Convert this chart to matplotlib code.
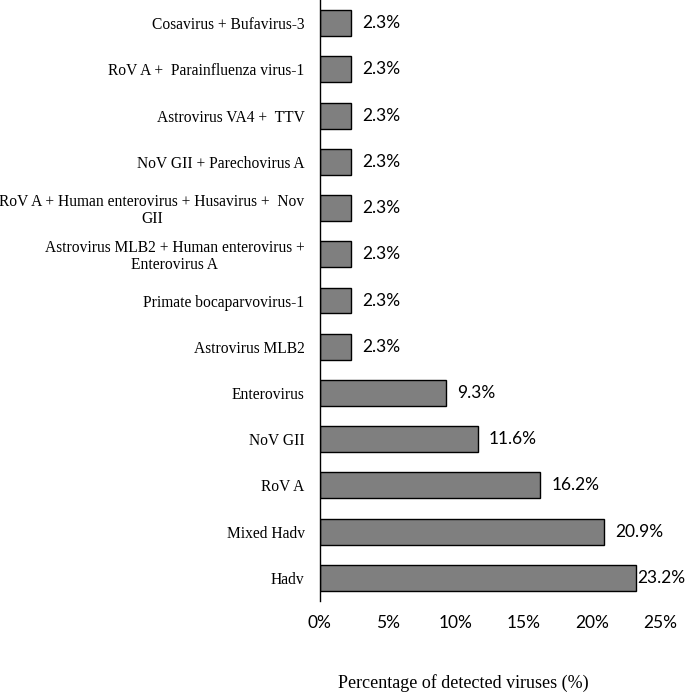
import matplotlib

matplotlib.use("Agg")
import matplotlib.pyplot as plt

# bottom-to-top order, as drawn
viruses = [
    "Hadv",
    "Mixed Hadv",
    "RoV A",
    "NoV GII",
    "Enterovirus",
    "Astrovirus MLB2",
    "Primate bocaparvovirus-1",
    "Astrovirus MLB2 + Human enterovirus +\nEnterovirus A",
    "RoV A + Human enterovirus + Husavirus +  Nov\nGII",
    "NoV GII + Parechovirus A",
    "Astrovirus VA4 +  TTV",
    "RoV A +  Parainfluenza virus-1",
    "Cosavirus + Bufavirus-3",
]
percent = [23.2, 20.9, 16.2, 11.6, 9.3, 2.3, 2.3, 2.3, 2.3, 2.3, 2.3, 2.3, 2.3]
xticks = [0, 5, 10, 15, 20, 25]

SERIF = ["Liberation Serif", "DejaVu Serif"]
SANS = ["Lato", "DejaVu Sans"]

fig = plt.figure(figsize=(6.85, 6.94), dpi=100)
ax = fig.add_axes([0.467, 0.134, 0.4965, 0.866])

y = range(len(viruses))
ax.barh(y, percent, height=0.56, color="#7f7f7f", edgecolor="black", linewidth=1.0)

ax.set_xlim(0, 25)
ax.set_ylim(-0.5, len(viruses) - 0.5)
ax.set_xticks(xticks)
ax.set_xticklabels([f"{t}%" for t in xticks], fontsize=12.5, family=SANS)
ax.set_yticks(list(y))
ax.set_yticklabels(viruses, fontsize=11.2, family=SERIF, multialignment="center",
                   linespacing=1.05)
ax.tick_params(axis="both", length=0)
ax.tick_params(axis="y", pad=11)
ax.tick_params(axis="x", pad=10)
for s in ["top", "right", "bottom"]:
    ax.spines[s].set_visible(False)
ax.spines["left"].set_linewidth(1.0)

for i, v in enumerate(percent):
    off = 1 if v + 2.5 > 25 else 8
    ax.annotate(f"{v:.1f}%", (v, i), xytext=(off, 0), textcoords="offset points",
                ha="left", va="center", fontsize=12.5, family=SANS, clip_on=False)

fig.text(0.676, 0.003, "Percentage of detected viruses (%)", ha="center", va="bottom",
         fontsize=13, family=SERIF)

fig.savefig("out.png", dpi=100)
